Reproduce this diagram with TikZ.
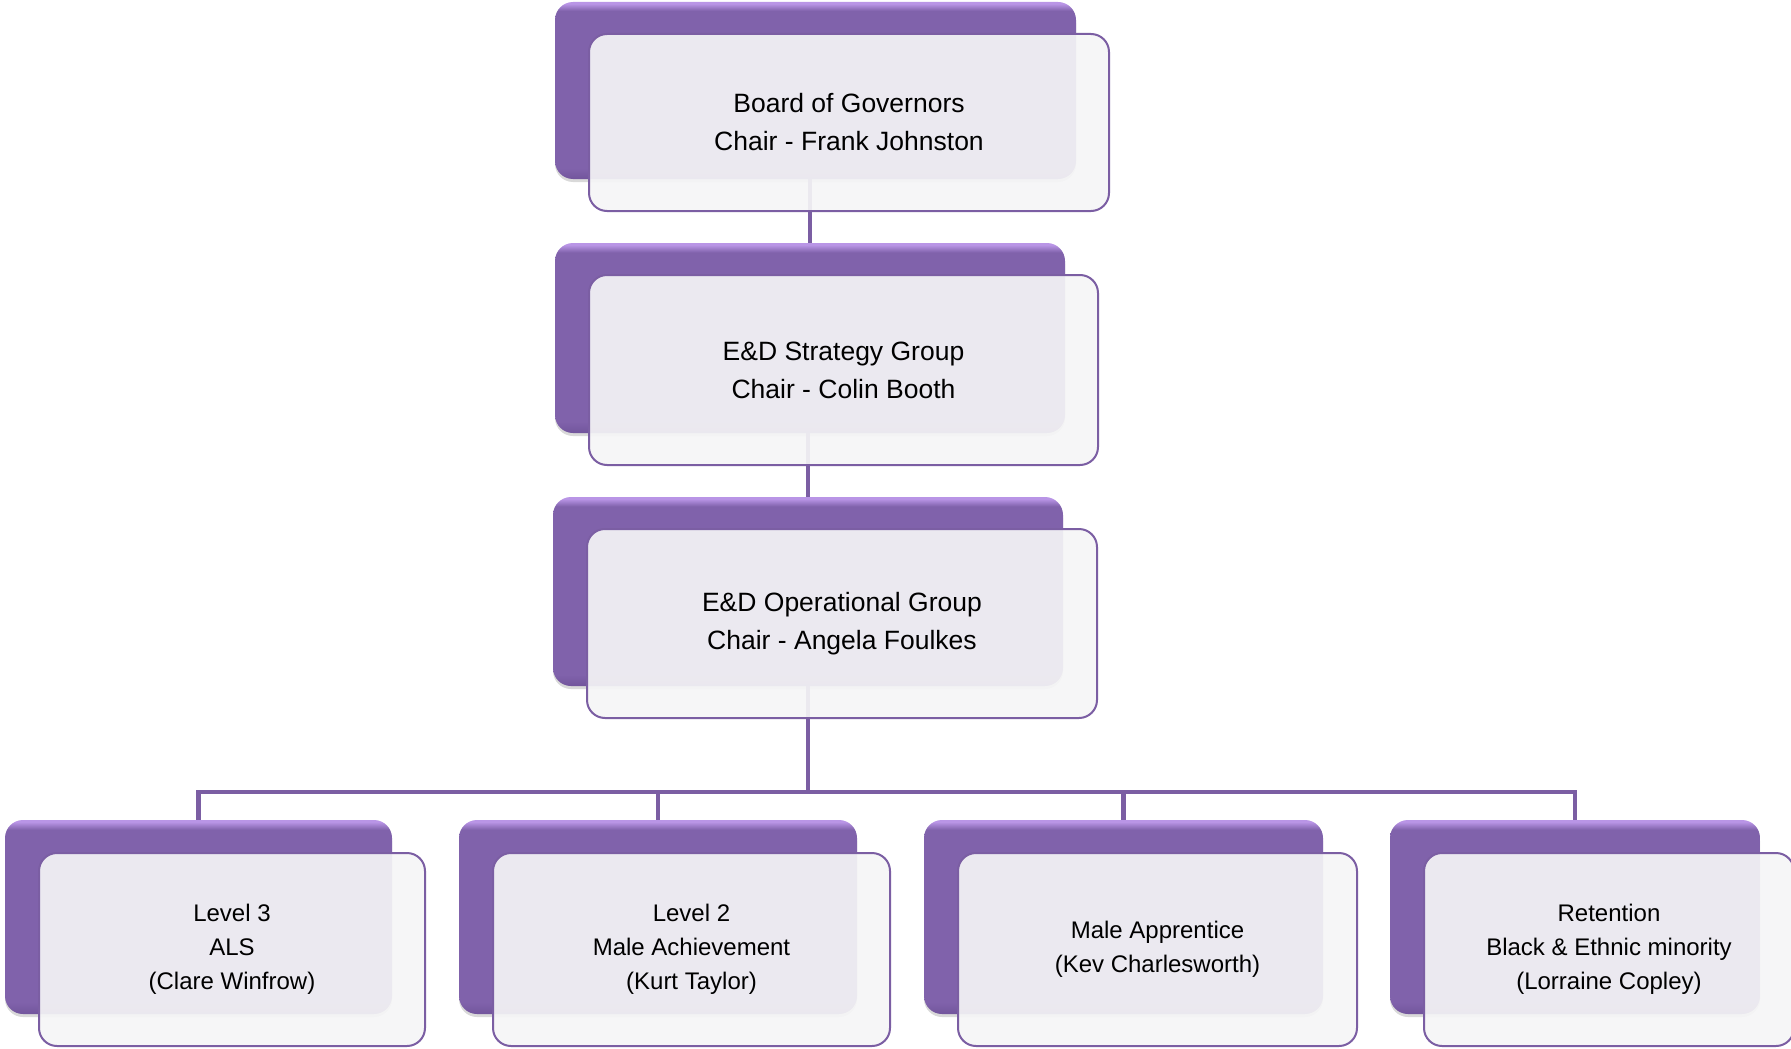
\documentclass[tikz,border=0pt]{standalone}
\usepackage{fontspec}
\setmainfont{Liberation Sans}
\usetikzlibrary{positioning, calc, shadows}

\definecolor{purp}{HTML}{8062AB}
\definecolor{purpD}{HTML}{72559C}
\definecolor{purpL}{HTML}{B995E6}
\definecolor{purpline}{HTML}{7B5EA3}
\definecolor{frontfill}{HTML}{F5F5F6}

\pgfdeclareverticalshading{purpshade}{100bp}{color(0bp)=(purpD); color(25bp)=(purpD); color(28bp)=(purp); color(72.5bp)=(purp); color(74.5bp)=(purpL); color(100bp)=(purpL)}

\tikzset{
	backbox/.style={shading=purpshade, rounded corners=18pt, inner sep=0pt, drop shadow={opacity=0.3, shadow xshift=0pt, shadow yshift=-3pt}},
	frontbox/.style={draw=purpline, line width=2pt, fill=frontfill, fill opacity=0.92, text opacity=1, rounded corners=18pt, inner sep=0pt, align=center, font=\fontsize{26.5}{38}\selectfont},
	lowbox/.style={frontbox, font=\fontsize{24}{34}\selectfont},
	conn/.style={draw=purpline, line width=4.5pt}
}

\begin{document}
\begin{tikzpicture}[x=1pt, y=-1pt]
					\useasboundingbox (0,0) rectangle (1791,1049);
					% purple boxes behind
					\node (0p) at (815.5, 90.5) [backbox, minimum width=521pt, minimum height=177pt] {};
					\node (1p) at (810, 338) [backbox, minimum width=510pt, minimum height=190pt] {};
					\node (2p) at (808, 591.5) [backbox, minimum width=510pt, minimum height=189pt] {};
					\node (3p) at (198.5, 917) [backbox, minimum width=387pt, minimum height=194pt] {};
					\node (4p) at (658, 917) [backbox, minimum width=398pt, minimum height=194pt] {};
					\node (5p) at (1123.5, 917) [backbox, minimum width=399pt, minimum height=194pt] {};
					\node (6p) at (1575, 917) [backbox, minimum width=370pt, minimum height=194pt] {};
					
					\coordinate (fork) at (2p.south |- 0,792);
					\draw[conn] (0p.south -| 1p.north) to (1p.north);
					\draw[conn] (1p.south -| 2p.north) to (2p.north);
					\draw[conn] (2p.south) to (fork);
					\foreach \n in {3,...,6}
						\draw[conn] (fork) -| (\n p.north);
					
					% front boxes
					\node (0) at (849, 122.5) [frontbox, minimum width=520pt, minimum height=177pt] {Board of Governors\\Chair - Frank Johnston};
					\node (1) at (843.5, 370) [frontbox, minimum width=509pt, minimum height=190pt] {E\&D Strategy Group\\Chair - Colin Booth};
					\node (2) at (842, 623.5) [frontbox, minimum width=510pt, minimum height=189pt] {E\&D Operational Group\\Chair - Angela Foulkes};
					\node (3) at (232, 949.5) [lowbox, minimum width=386pt, minimum height=193pt] {Level 3\\ALS\\(Clare Winfrow)};
					\node (4) at (691.5, 949.5) [lowbox, minimum width=397pt, minimum height=193pt] {Level 2\\Male Achievement\\(Kurt Taylor)};
					\node (5) at (1157.5, 949.5) [lowbox, minimum width=399pt, minimum height=193pt] {Male Apprentice\\(Kev Charlesworth)};
					\node (6) at (1609, 949.5) [lowbox, minimum width=370pt, minimum height=193pt] {Retention\\Black \& Ethnic minority\\(Lorraine Copley)};
				\end{tikzpicture}
\end{document}
